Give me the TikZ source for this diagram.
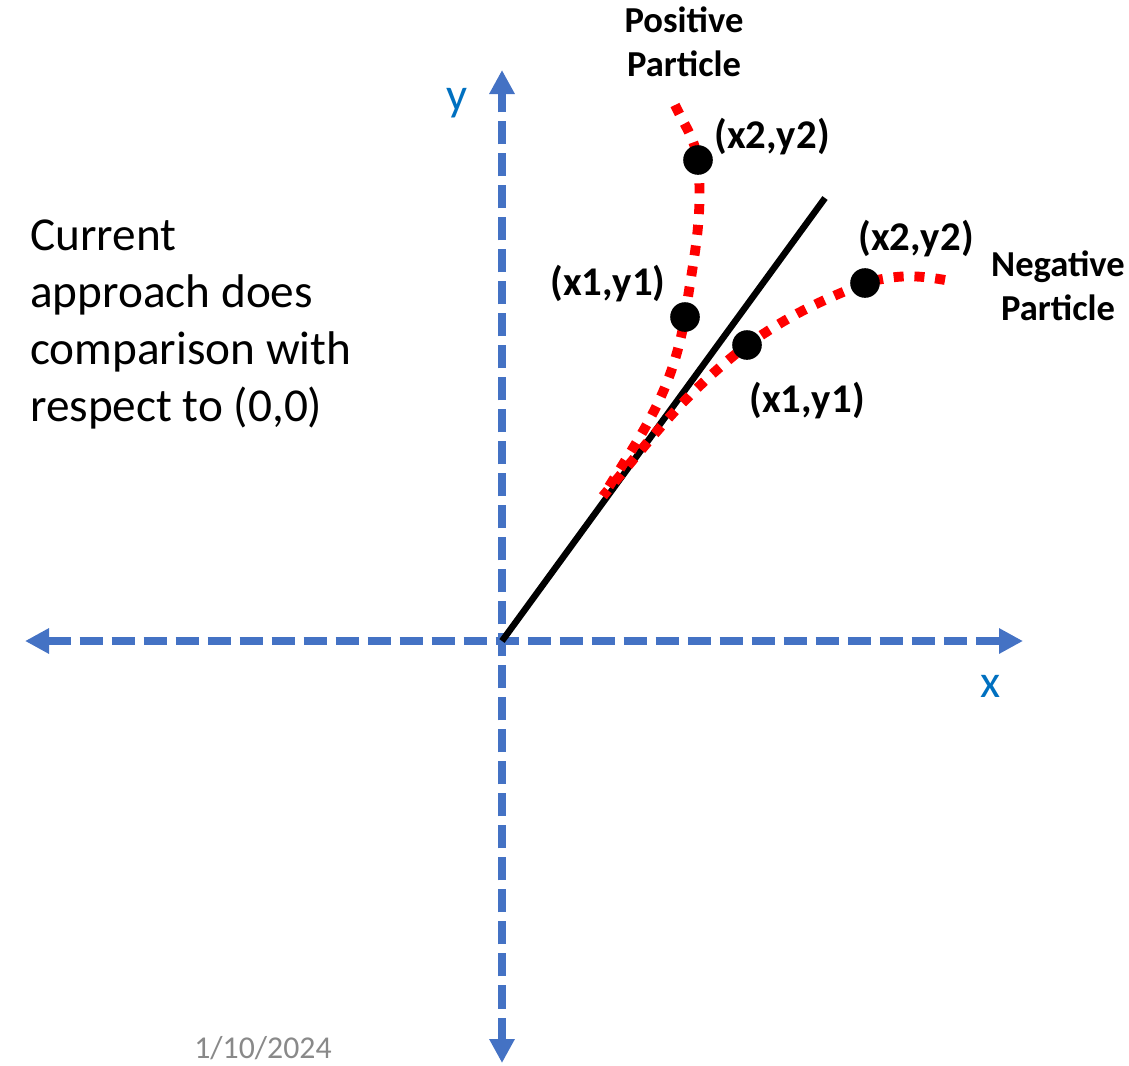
\documentclass[tikz,border=0pt]{standalone}
\usepackage{fontspec}
\setmainfont{Carlito}
\usepackage{xcolor}
\usepackage{tikz}
\usetikzlibrary{arrows.meta,positioning,calc}
\definecolor{axisblue}{RGB}{68,114,196}
\definecolor{labelblue}{RGB}{0,112,192}
\definecolor{dategray}{RGB}{137,137,137}

\begin{document}
\begin{tikzpicture}[x=0.025cm,y=-0.025cm,
    axis/.style={axisblue,line width=5pt,dash pattern=on 0.575cm off 0.225cm,
        {Triangle[length=0.6cm,width=0.6cm]}-{Triangle[length=0.6cm,width=0.6cm]}},
    particle/.style={red,line width=7pt,dash pattern=on 0.25cm off 0.27cm},
    pt/.style={circle,fill=black,minimum size=0.74cm,inner sep=0pt},
    coordlabel/.style={font=\fontsize{29}{35}\selectfont\bfseries},
    pname/.style={font=\fontsize{26}{31}\selectfont\bfseries,align=center}]
    \useasboundingbox (0,0) rectangle (1129,1065);

    % Axes
    \coordinate (o) at (502,641);
    \coordinate (xl) at (25,641);
    \coordinate (xr) at (1023,641);
    \coordinate (yt) at (502,70);
    \coordinate (yb) at (502,1063);
    \draw[axis] (xl) -- (xr);
    \draw[axis] (yb) -- (yt);
    \node[text=labelblue,font=\fontsize{33}{40}\selectfont] (ylab) at (457,103) {y};
    \node[text=labelblue,font=\fontsize{33}{40}\selectfont] (xlab) at (991,686) {x};

    % Comparison line
    \coordinate (lend) at (825,198);
    \draw[line width=4.6pt] (o) -- (lend);

    % Particle positions
    \coordinate (p2) at (698,160);
    \coordinate (p1) at (685,317);
    \coordinate (n2) at (865,283);
    \coordinate (n1) at (747,345);
    \coordinate (pstart) at (675,105);
    \coordinate (nstart) at (945,280);
    \coordinate (tail) at (603,496);

    % Tracks
    \draw[particle] (pstart) to[out=-65,in=100] (p2)
        to[out=-85,in=82] (p1) to[out=-100,in=58] (tail);
    \draw[particle] (nstart) to[out=170,in=15] (n2)
        to[out=-158,in=35] (n1) to[out=-142,in=50] (tail);

    % Points
    \foreach \c in {p1,p2,n1,n2} {
        \node[pt] (\c dot) at (\c) {};
    }

    % Labels
    \node[coordlabel] (p2lab) at (772,137) {(x2,y2)};
    \node[coordlabel] (p1lab) at (608,284) {(x1,y1)};
    \node[coordlabel] (n2lab) at (916,239) {(x2,y2)};
    \node[coordlabel] (n1lab) at (807,401) {(x1,y1)};
    \node[pname] (pos) at (684,42) {Positive\\Particle};
    \node[pname] (neg) at (1058,286) {Negative\\Particle};

    \node[anchor=north west,inner sep=0pt,align=left,
        font=\fontsize{33.6}{40.4}\selectfont] (note) at (30,220)
        {Current\\approach does\\comparison with\\respect to (0,0)};
    \node[text=dategray,font=\fontsize{22.6}{27}\selectfont] (date) at (263,1048) {1/10/2024};
\end{tikzpicture}
\end{document}
